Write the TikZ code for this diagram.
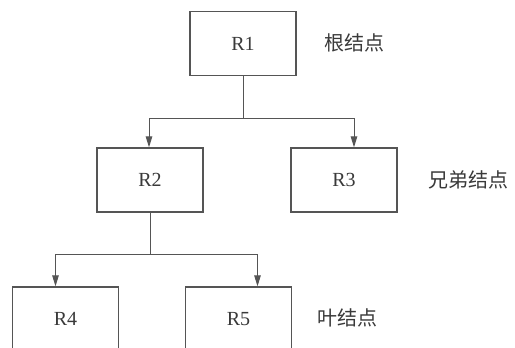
\documentclass[tikz,border=0pt]{standalone}
\usepackage{fontspec}
\setmainfont{Liberation Serif}
\newfontfamily\cjk{Noto Sans CJK SC}
\usetikzlibrary{arrows.meta}
\definecolor{linec}{HTML}{555555}
\definecolor{txtc}{HTML}{3A3A3A}
\begin{document}
\begin{tikzpicture}[x=1pt,y=-1pt,
  box/.style={draw=linec, line width=1.3pt, minimum width=106pt, minimum height=64pt, inner sep=0pt, font=\fontsize{20}{22}\selectfont, text=txtc},
  lab/.style={font=\cjk\fontsize{20}{22}\selectfont, text=txtc, anchor=west},
  conn/.style={draw=linec, line width=1pt},
  arr/.style={conn, -{Triangle[width=6.5pt,length=11pt]}}]
\useasboundingbox (0,0) rectangle (515,348);
\clip (0,0) rectangle (515,348);
\fill[white] (0,0) rectangle (515,348);
\node[box] (R1) at (243,43.5) {R1};
\node[box] (R2) at (150,180) {R2};
\node[box] (R3) at (344,180) {R3};
\node[box] (R4) at (65.5,319) {R4};
\node[box] (R5) at (238.5,319) {R5};
\node[lab] (l1) at (321,43) {根结点};
\node[lab] (l2) at (425,180) {兄弟结点};
\node[lab] (l3) at (314,318) {叶结点};
\coordinate (j1) at (243,118);
\coordinate (j2) at (150,254);
\draw[conn] (R1.south) -- (j1);
\draw[arr] (j1) -| ([xshift=-1pt]R2.north);
\draw[arr] (j1) -| ([xshift=10pt]R3.north);
\draw[conn] (R2.south) -- (j2);
\draw[arr] (j2) -| ([xshift=-10pt]R4.north);
\draw[arr] (j2) -| ([xshift=19pt]R5.north);
\end{tikzpicture}
\end{document}
